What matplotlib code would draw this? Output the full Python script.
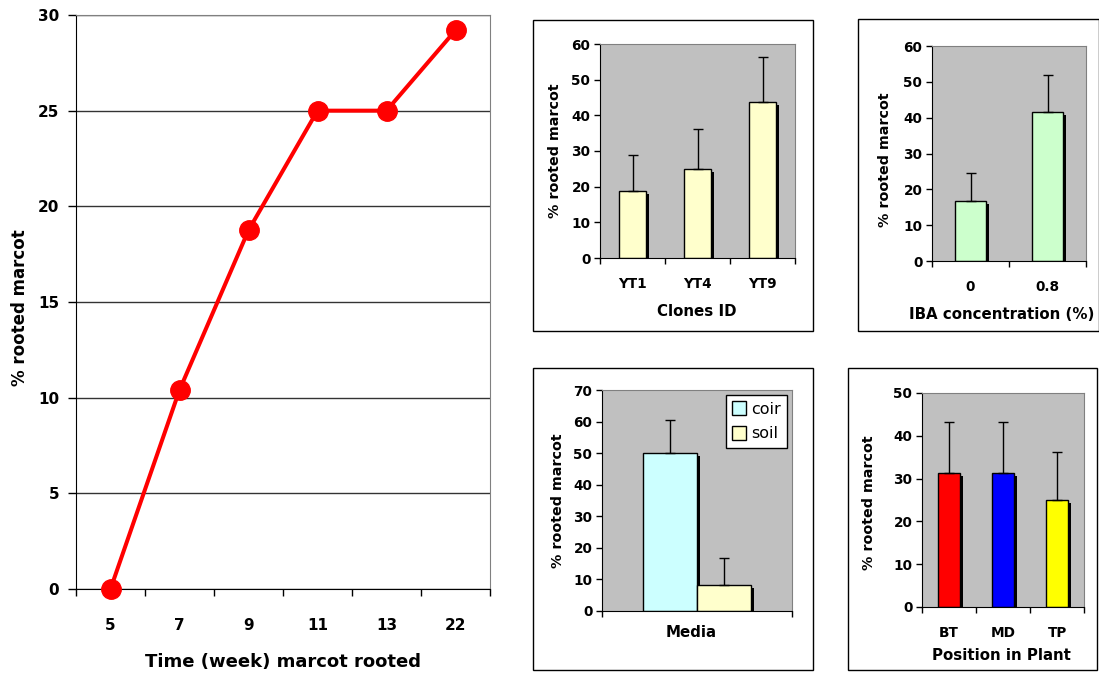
import numpy as np
import matplotlib
matplotlib.use("Agg")
import matplotlib.pyplot as plt
import matplotlib.patheffects as pe
from matplotlib.patches import Rectangle, Patch

W, H = 1099, 675

# data
weeks = ["5", "7", "9", "11", "13", "22"]
rooted = [0, 10.4, 18.75, 25, 25, 29.2]

clones = ["YT1", "YT4", "YT9"]
clone_val = [18.75, 25.0, 43.75]
clone_err = [10.1, 11.2, 12.6]

iba = ["0", "0.8"]
iba_val = [16.67, 41.67]
iba_err = [7.8, 10.3]

media = ["coir", "soil"]
media_val = [50.0, 8.33]
media_err = [10.5, 8.4]

position = ["BT", "MD", "TP"]
pos_val = [31.25, 31.25, 25.0]
pos_err = [12.0, 12.0, 11.2]

GRAYBG = "#C0C0C0"
EDGE_GRAY = "#808080"

plt.rcParams["font.family"] = "DejaVu Sans"
plt.rcParams["font.weight"] = "bold"

fig = plt.figure(figsize=(W / 100, H / 100), dpi=100)
fig.patch.set_facecolor("white")


def box(x0, y0, x1, y1):
    return [x0 / W, 1 - y1 / H, (x1 - x0) / W, (y1 - y0) / H]


def frame(x0, y0, x1, y1):
    r = Rectangle((x0 / W, 1 - y1 / H), (x1 - x0) / W, (y1 - y0) / H,
                  transform=fig.transFigure, fill=False, ec="black", lw=1)
    fig.add_artist(r)


shadow = [pe.SimplePatchShadow(offset=(2.3, -2.3), shadow_rgbFace="black", alpha=1.0),
          pe.Normal()]


def small_panel(rect, labels, vals, errs, colors, ymax, xlabel, ylx, yly, xlx, xly,
                width=0.41):
    ax = fig.add_axes(rect)
    ax.set_facecolor(GRAYBG)
    x = np.arange(len(vals))
    bars = ax.bar(x, vals, width=width, color=colors, edgecolor="black", lw=1, zorder=2)
    for b in bars:
        b.set_path_effects(shadow)
    ax.errorbar(x, vals, yerr=[np.zeros(len(vals)), errs], fmt="none", ecolor="black",
                elinewidth=1, capsize=3.3, capthick=1, zorder=3)
    ax.set_xlim(-0.5, len(vals) - 0.5)
    ax.set_ylim(0, ymax)
    ax.set_yticks(np.arange(0, ymax + 1, 10))
    ax.set_xticks(x)
    ax.set_xticklabels(labels)
    ax.set_xticks(np.arange(-0.5, len(vals), 1.0), minor=True)
    ax.tick_params(axis="x", which="major", length=0, pad=14, labelsize=9.8)
    ax.tick_params(axis="x", which="minor", length=4, width=1, direction="out")
    ax.tick_params(axis="y", length=4, width=1, direction="out", pad=3, labelsize=9.8)
    for s in ("top", "right"):
        ax.spines[s].set_color(EDGE_GRAY)
    for s in ("left", "bottom"):
        ax.spines[s].set_color("black")
    ax.set_ylabel("% rooted marcot", fontsize=10.3, fontweight="bold", va="center")
    ax.yaxis.set_label_coords(ylx, yly)
    ax.set_xlabel(xlabel, fontsize=10.8, fontweight="bold", va="center")
    ax.xaxis.set_label_coords(xlx, xly)
    return ax


# left: line chart
ax = fig.add_axes(box(76, 15, 490, 589))
x = np.arange(len(weeks))
ax.plot(x, rooted, color="#FF0000", lw=2.9, marker="o", ms=14, clip_on=False, zorder=3)
ax.set_xlim(-0.5, len(weeks) - 0.5)
ax.set_ylim(0, 30)
ax.set_yticks(np.arange(0, 31, 5))
ax.set_xticks(x)
ax.set_xticklabels(weeks)
ax.set_xticks(np.arange(-0.5, len(weeks), 1.0), minor=True)
ax.tick_params(axis="x", which="major", length=0, pad=21, labelsize=11)
ax.tick_params(axis="x", which="minor", length=5, width=1, direction="out")
ax.tick_params(axis="y", length=6, width=1, direction="out", pad=6, labelsize=11)
ax.yaxis.grid(True, color="#333333", lw=1)
ax.set_axisbelow(True)
ax.spines["top"].set_color(EDGE_GRAY)
ax.spines["right"].set_color(EDGE_GRAY)
ax.set_ylabel("% rooted marcot", fontsize=12, fontweight="bold", va="center")
ax.yaxis.set_label_coords(-0.135, 0.49)
ax.set_xlabel("Time (week) marcot rooted", fontsize=13, fontweight="bold", va="center")
ax.xaxis.set_label_coords(0.5, -0.127)

# frames around the small charts
frame(533, 20, 813, 331)
frame(858, 19, 1098.5, 331)
frame(533, 368, 813, 670)
frame(848, 368, 1097, 670)

# top middle: clones
small_panel(box(600, 44, 795, 258), clones, clone_val, clone_err, "#FFFFCC", 60,
            "Clones ID", -0.231, 0.5, 0.497, -0.251, width=0.42)

# top right: IBA
small_panel(box(932, 46, 1086, 261), iba, iba_val, iba_err, "#CCFFCC", 60,
            "IBA concentration (%)", -0.305, 0.47, 0.45, -0.251, width=0.41)

# bottom middle: media
axm = fig.add_axes(box(602, 390, 792, 611))
axm.set_facecolor(GRAYBG)
mcolors = ["#CCFFFF", "#FFFFCC"]
mx = 0.5 + (np.arange(len(media)) - 0.5) * 0.284
mb = axm.bar(mx, media_val, width=0.284, color=mcolors, edgecolor="black", lw=1, zorder=2)
for b in mb:
    b.set_path_effects(shadow)
axm.errorbar(mx, media_val, yerr=[np.zeros(len(media)), media_err], fmt="none",
             ecolor="black", elinewidth=1, capsize=3.3, capthick=1, zorder=3)
axm.set_xlim(0, 1)
axm.set_ylim(0, 70)
axm.set_yticks(np.arange(0, 71, 10))
axm.set_xticks([0, 1])
axm.set_xticklabels([])
axm.tick_params(axis="x", length=4, width=1, direction="out")
axm.tick_params(axis="y", length=4, width=1, direction="out", pad=3, labelsize=9.8)
for s in ("top", "right"):
    axm.spines[s].set_color(EDGE_GRAY)
axm.set_ylabel("% rooted marcot", fontsize=10.3, fontweight="bold", va="center")
axm.yaxis.set_label_coords(-0.232, 0.5)
axm.set_xlabel("Media", fontsize=10.8, fontweight="bold", va="center")
axm.xaxis.set_label_coords(0.47, -0.097)
handles = [Patch(facecolor=c, edgecolor="black", lw=1) for c in mcolors]
leg = axm.legend(handles, media, loc="upper right", fancybox=False, framealpha=1,
                 edgecolor="black", handlelength=0.9, handleheight=1.0,
                 handletextpad=0.3, borderaxespad=0.3, borderpad=0.4, labelspacing=0.55,
                 prop={"weight": "normal", "size": 11.5})
leg.get_frame().set_linewidth(1)

# bottom right: position in plant
small_panel(box(922, 393, 1084, 607), position, pos_val, pos_err,
            ["#FF0000", "#0000FF", "#FFFF00"], 50,
            "Position in Plant", -0.327, 0.486, 0.49, -0.226, width=0.40)

fig.savefig("out.png", dpi=100, facecolor="white")
